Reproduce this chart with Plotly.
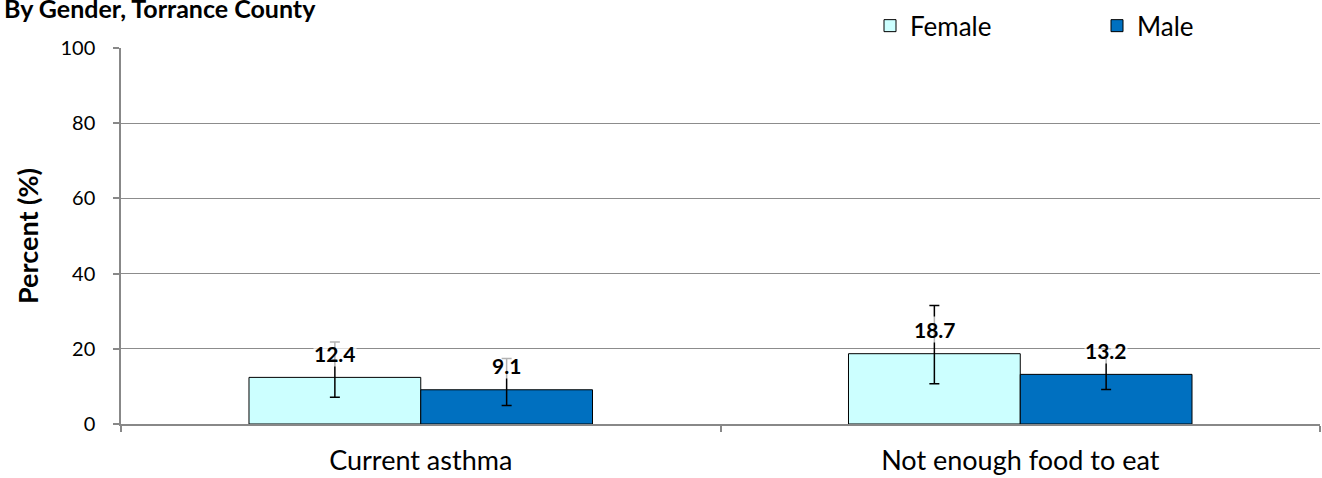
import plotly.graph_objects as go

categories = ["Current asthma", "Not enough food to eat"]
female = [12.4, 18.7]
male = [9.1, 13.2]
female_err_plus = [9.4, 12.8]
female_err_minus = [5.3, 8.0]
male_err_plus = [8.3, 6.8]
male_err_minus = [4.2, 4.0]
y_ticks = [0, 20, 40, 60, 80, 100]

FONT = "Lato"
PLOT_L, PLOT_R, PLOT_T, PLOT_B = 121, 1320, 46, 424
PW = PLOT_R - PLOT_L
PH = PLOT_B - PLOT_T


def px_x(x):
    return (x - PLOT_L) / PW


def px_y(y):
    return (PLOT_B - y) / PH


fig = go.Figure()
fig.add_trace(go.Bar(
    name="Female", x=categories, y=female, legend="legend",
    marker=dict(color="#CCFFFF", line=dict(color="black", width=1)),
    error_y=dict(type="data", symmetric=False, array=female_err_plus,
                 arrayminus=female_err_minus, color="black", thickness=1.5, width=5),
))
fig.add_trace(go.Bar(
    name="Male", x=categories, y=male, legend="legend2",
    marker=dict(color="#0070C0", line=dict(color="black", width=1)),
    error_y=dict(type="data", symmetric=False, array=male_err_plus,
                 arrayminus=male_err_minus, color="black", thickness=1.5, width=5),
))

annotations = []
for i, c in enumerate(categories):
    for vals, off in ((female, -0.143), (male, 0.143)):
        annotations.append(dict(
            x=i + off, y=vals[i], xref="x", yref="y", text=f"<b>{vals[i]:.1f}</b>",
            showarrow=False, yshift=24, font=dict(family=FONT, size=21, color="black"),
            bgcolor="rgba(255,255,255,0.7)", borderpad=0,
        ))
annotations.append(dict(
    x=px_x(2), y=px_y(6), xref="paper", yref="paper", xanchor="left", yanchor="middle",
    text="<b>By Gender, Torrance County</b>", showarrow=False,
    font=dict(family=FONT, size=25, color="black"),
))

legend_common = dict(orientation="h", yanchor="top", y=px_y(0), xanchor="left",
                     font=dict(family=FONT, size=26, color="black"),
                     bgcolor="rgba(0,0,0,0)", borderwidth=0)

fig.update_layout(
    width=1322, height=478,
    margin=dict(l=PLOT_L, r=1322 - PLOT_R, t=PLOT_T, b=478 - PLOT_B, pad=0),
    paper_bgcolor="white", plot_bgcolor="white",
    barmode="group", bargap=0.427, bargroupgap=0,
    font=dict(family=FONT, color="black"),
    showlegend=True,
    legend=dict(x=px_x(870), **legend_common),
    legend2=dict(x=px_x(1097), **legend_common),
    annotations=annotations,
)
fig.update_xaxes(
    type="category", showline=True, linecolor="#888888", linewidth=1.5,
    ticks="outside", tickson="boundaries", ticklen=6, tickcolor="#888888", tickwidth=1.5,
    tickfont=dict(family=FONT, size=27), ticklabelstandoff=12, showgrid=False,
    automargin=False,
)
fig.update_yaxes(
    range=[0, 100], tickvals=y_ticks, showline=True, linecolor="#888888", linewidth=1.5,
    ticks="outside", ticklen=6, tickcolor="#888888", tickwidth=1.5,
    showgrid=True, gridcolor="#8c8c8c", gridwidth=1, zeroline=False,
    tickfont=dict(family=FONT, size=20), ticklabelstandoff=14,
    title=dict(text="<b>Percent (%)</b>", font=dict(family=FONT, size=27), standoff=14),
    automargin=False,
)

fig.write_html("out.html", config={"displayModeBar": False},
               post_script="document.body.style.margin='0';")
